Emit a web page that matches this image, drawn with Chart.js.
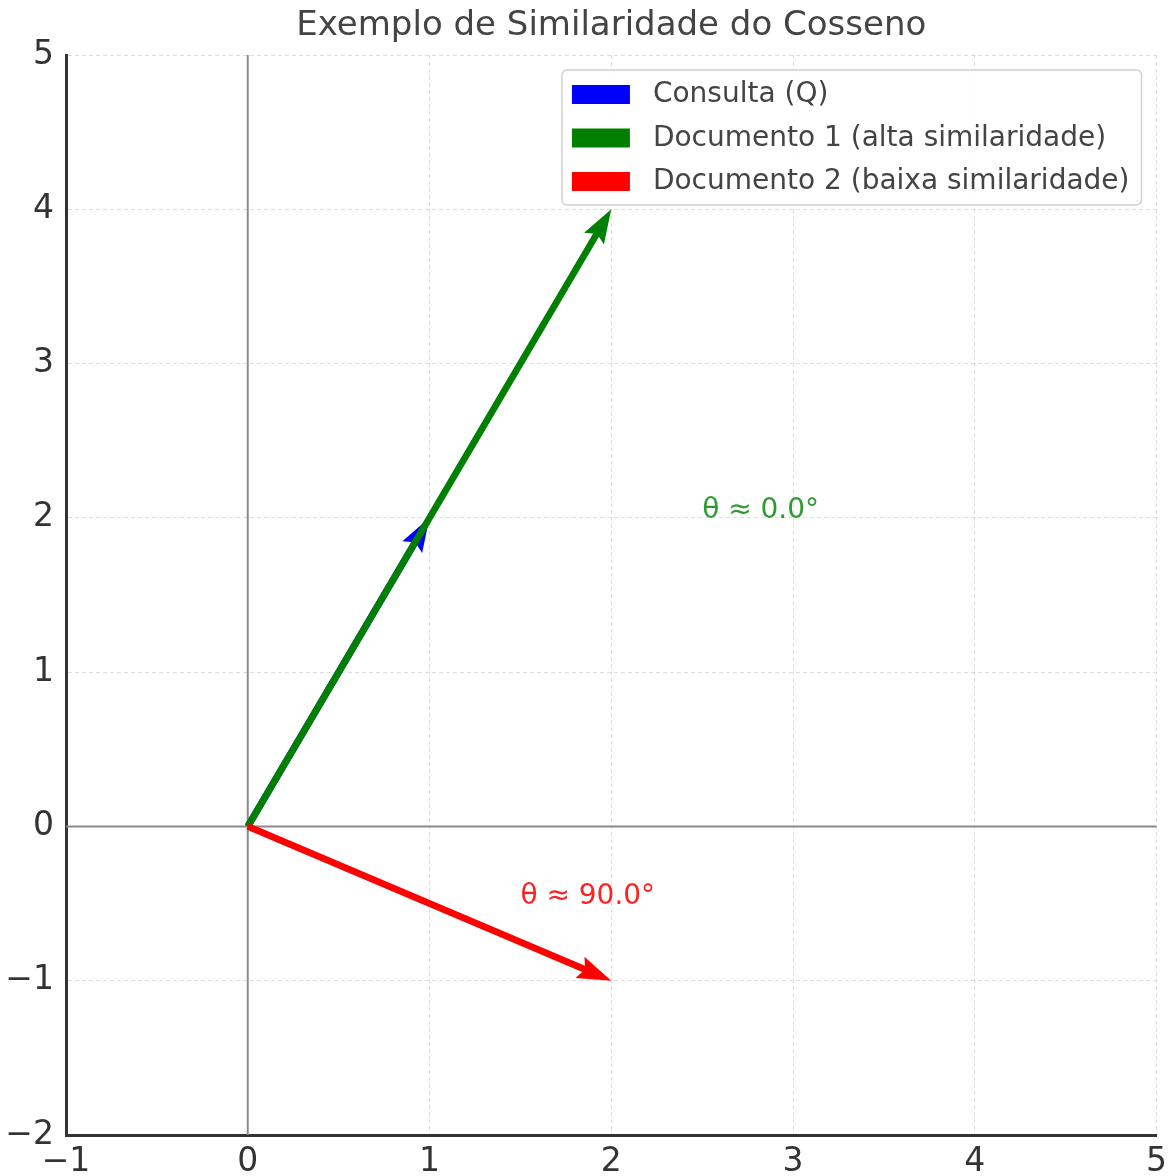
<!DOCTYPE html>
<html>
<head>
<meta charset="utf-8">
<script src="https://cdn.jsdelivr.net/npm/chart.js@4.4.1/dist/chart.umd.min.js"></script>
<style>
  html, body { margin: 0; padding: 0; background: #fff; }
  #wrap { width: 1175px; height: 1176px; }
</style>
</head>
<body>
<div id="wrap"><canvas id="myChart" width="1175" height="1176"></canvas></div>
<script>
// vectors (drawn from the origin)
var vectorNames = ['Consulta (Q)', 'Documento 1 (alta similaridade)', 'Documento 2 (baixa similaridade)'];
var vectorX = [1, 2, 2];
var vectorY = [2, 4, -1];
var vectorColors = ['#0000ff', '#008000', '#ff0000'];

// angle labels
var angleText = ['θ ≈ 0.0°', 'θ ≈ 90.0°'];
var angleX = [2.5, 1.5];
var angleY = [2.0, -0.5];
var angleColors = ['#2f9a2f', '#ff2020'];

// axes
var xTicks = [-1, 0, 1, 2, 3, 4, 5];
var yTicks = [-2, -1, 0, 1, 2, 3, 4, 5];
var chartTitle = 'Exemplo de Similaridade do Cosseno';

var FONT = '"DejaVu Sans", sans-serif';

function minus(v) {
    return String(v).replace('-', '\u2212');
}

var datasets = [];
for (var i = 0; i < vectorNames.length; i++) {
    datasets.push({
        label: vectorNames[i],
        data: [{ x: 0, y: 0 }, { x: vectorX[i], y: vectorY[i] }],
        borderColor: vectorColors[i],
        backgroundColor: vectorColors[i],
        showLine: false,
        pointRadius: 0,
        order: vectorNames.length - i
    });
}

// title centred over the plot area
var plotTitle = {
    id: 'plotTitle',
    afterDraw: function (chart) {
        var ctx = chart.ctx, a = chart.chartArea;
        ctx.save();
        ctx.font = '34px ' + FONT;
        ctx.fillStyle = '#444';
        ctx.textAlign = 'center';
        ctx.textBaseline = 'middle';
        ctx.fillText(chartTitle, (a.left + a.right) / 2, 26);
        ctx.restore();
    }
};

// zero lines at x=0 and y=0
var zeroLines = {
    id: 'zeroLines',
    beforeDatasetsDraw: function (chart) {
        var ctx = chart.ctx, a = chart.chartArea;
        var px = chart.scales.x.getPixelForValue(0);
        var py = chart.scales.y.getPixelForValue(0);
        ctx.save();
        ctx.strokeStyle = '#8a8a8a';
        ctx.lineWidth = 2;
        ctx.beginPath();
        ctx.moveTo(px, a.top); ctx.lineTo(px, a.bottom);
        ctx.moveTo(a.left, py); ctx.lineTo(a.right, py);
        ctx.stroke();
        ctx.restore();
    }
};

// quiver-like arrows
var arrows = {
    id: 'arrows',
    afterDatasetDraw: function (chart, args) {
        var meta = args.meta;
        var p0 = meta.data[0], p1 = meta.data[1];
        var color = chart.data.datasets[args.index].borderColor;
        var dx = p1.x - p0.x, dy = p1.y - p0.y;
        var len = Math.sqrt(dx * dx + dy * dy);
        var ux = dx / len, uy = dy / len;
        var nx = -uy, ny = ux;
        var w = 3.4;          // half shaft width
        var hl = 34, hal = 30, hw = 11.5;
        var ctx = chart.ctx;
        ctx.save();
        ctx.fillStyle = color;
        ctx.beginPath();
        ctx.moveTo(p0.x + nx * w, p0.y + ny * w);
        ctx.lineTo(p1.x - ux * hal + nx * w, p1.y - uy * hal + ny * w);
        ctx.lineTo(p1.x - ux * hl + nx * hw, p1.y - uy * hl + ny * hw);
        ctx.lineTo(p1.x, p1.y);
        ctx.lineTo(p1.x - ux * hl - nx * hw, p1.y - uy * hl - ny * hw);
        ctx.lineTo(p1.x - ux * hal - nx * w, p1.y - uy * hal - ny * w);
        ctx.lineTo(p0.x - nx * w, p0.y - ny * w);
        ctx.closePath();
        ctx.fill();
        ctx.restore();
    }
};

// angle annotations
var annotations = {
    id: 'annotations',
    afterDatasetsDraw: function (chart) {
        var ctx = chart.ctx;
        ctx.save();
        ctx.font = '28px ' + FONT;
        ctx.textAlign = 'left';
        ctx.textBaseline = 'alphabetic';
        for (var i = 0; i < angleText.length; i++) {
            ctx.fillStyle = angleColors[i];
            ctx.fillText(angleText[i],
                chart.scales.x.getPixelForValue(angleX[i]),
                chart.scales.y.getPixelForValue(angleY[i]));
        }
        ctx.restore();
    }
};

// matplotlib-style legend in the upper right
var boxLegend = {
    id: 'boxLegend',
    afterDraw: function (chart) {
        var ctx = chart.ctx, a = chart.chartArea;
        ctx.save();
        ctx.font = '28px ' + FONT;
        var maxW = 0;
        chart.data.datasets.forEach(function (ds) {
            maxW = Math.max(maxW, ctx.measureText(ds.label).width);
        });
        var boxW = 91 + maxW + 12;
        var boxH = 135;
        var left = a.right - 15 - boxW;
        var top = a.top + 15;
        ctx.fillStyle = 'rgba(255,255,255,0.85)';
        ctx.strokeStyle = '#d0d0d0';
        ctx.lineWidth = 1.5;
        ctx.beginPath();
        ctx.roundRect(left, top, boxW, boxH, 5);
        ctx.fill();
        ctx.stroke();
        ctx.textBaseline = 'middle';
        chart.data.datasets.forEach(function (ds, i) {
            var cy = top + 24 + i * 43.5;
            ctx.fillStyle = ds.borderColor;
            ctx.fillRect(left + 10, cy - 9, 58, 19);
            ctx.fillStyle = '#444';
            ctx.fillText(ds.label, left + 91, cy + 1);
        });
        ctx.restore();
    }
};

var ctx = document.getElementById('myChart').getContext('2d');
var myChart = new Chart(ctx, {
    type: 'scatter',
    data: { datasets: datasets },
    options: {
        responsive: false,
        animation: false,
        layout: { padding: { left: 0, right: 12, top: 55, bottom: 0 } },
        plugins: {
            legend: { display: false },
            tooltip: { enabled: false },
            title: { display: false }
        },
        scales: {
            x: {
                type: 'linear',
                min: xTicks[0],
                max: xTicks[xTicks.length - 1],
                afterBuildTicks: function (scale) {
                    scale.ticks = xTicks.map(function (v) { return { value: v }; });
                },
                afterFit: function (scale) { scale.height = 41; },
                ticks: {
                    color: '#333',
                    font: { family: FONT, size: 33 },
                    padding: 8,
                    maxRotation: 0,
                    callback: function (v) { return minus(v); }
                },
                grid: { color: 'rgba(0,0,0,0.13)', lineWidth: 1, drawTicks: false },
                border: { display: true, color: '#333', width: 3, dash: [4, 3] }
            },
            y: {
                type: 'linear',
                min: yTicks[0],
                max: yTicks[yTicks.length - 1],
                afterBuildTicks: function (scale) {
                    scale.ticks = yTicks.map(function (v) { return { value: v }; });
                },
                afterFit: function (scale) { scale.width = 66; },
                ticks: {
                    color: '#333',
                    font: { family: FONT, size: 33 },
                    padding: 12,
                    callback: function (v) { return minus(v); }
                },
                grid: { color: 'rgba(0,0,0,0.13)', lineWidth: 1, drawTicks: false },
                border: { display: true, color: '#333', width: 3, dash: [4, 3] }
            }
        }
    },
    plugins: [plotTitle, zeroLines, arrows, annotations, boxLegend]
});
</script>
</body>
</html>
